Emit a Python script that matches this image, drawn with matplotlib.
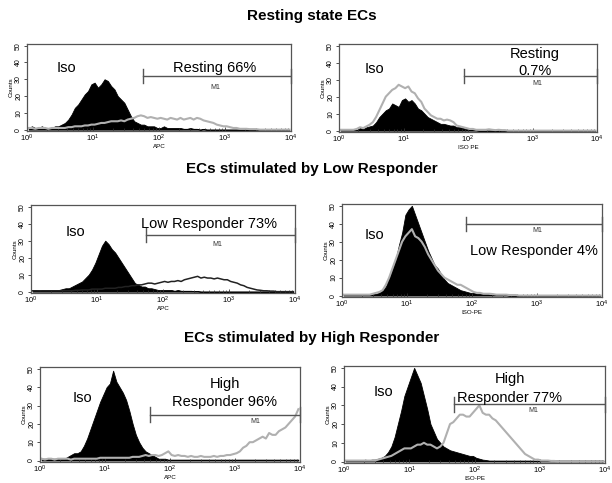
import numpy as np
import matplotlib
matplotlib.use("Agg")
import matplotlib.pyplot as plt
from matplotlib.ticker import LogLocator, FixedLocator

plt.rcParams['font.family'] = ['Liberation Sans', 'DejaVu Sans']

# bins: 20 per decade, 10^0 .. 10^4 (values read at bin centres)
edges = 10 ** np.linspace(0, 4, 81)
centers = np.sqrt(edges[:-1] * edges[1:])

# --- Resting state, APC ---
rest_apc_iso = [1, 2, 1, 1, 2, 1, 1, 1, 2, 2, 3, 4, 6, 9, 13, 15, 18, 21, 23, 27,
                28, 25, 27, 30, 29, 26, 24, 20, 18, 16, 12, 8, 5, 4, 3, 3, 2, 2, 2, 1,
                1, 2, 1, 1, 1, 1, 1, .5, .5, 1, .5, .5, 0, .5, 0, 0, 0, 0, 0, 0,
                0, 0, 0, 0, 0, 0, 0, 0, 0, 0, 0, 0, 0, 0, 0, 0, 0, 0, 0, 0]
rest_apc = [1, 1, .5, 1, 1, 1, .5, 1, 1, 1, 1, 1, 1.5, 1.5, 2, 2, 2, 2.5, 2.5, 3,
            3, 3.5, 4, 4, 4.5, 5, 5, 5, 5.5, 5, 6, 6.5, 7, 8, 8.5, 8, 7, 7.5, 7, 6.5,
            7, 6.5, 6, 7, 6.5, 6, 7, 6, 6.5, 7, 6, 7, 6.5, 5.5, 5, 4.5, 4, 3, 2.5, 2,
            2, 1.5, 1, 1, .5, .5, .5, .3, .3, .3, 0, 0, 0, 0, 0, 0, 0, 0, 0, 0]

# --- Resting state, ISO PE ---
rest_pe_iso = [.5, .5, .5, .5, .5, .5, 1.5, 1, 2, 2.5, 3, 5, 8, 10, 12, 13, 16, 15, 14, 18,
               19, 17, 18, 16, 13, 12, 10, 8, 7, 6, 5, 4, 4, 3.5, 3, 3, 2, 2, 1.5, 1,
               .5, .5, .3, 0, 0, 0, 0, 0, 0, 0, 0, 0, 0, 0, 0, 0, 0, 0, 0, 0,
               0, 0, 0, 0, 0, 0, 0, 0, 0, 0, 0, 0, 0, 0, 0, 0, 0, 0, 0, 0]
rest_pe = [.5, .5, .5, .5, .5, 1, 2, 1.5, 2.5, 3.5, 5, 8, 12, 16, 20, 22, 24, 25, 27, 26,
           25, 26, 23, 22, 19, 17, 13, 11, 9, 8, 7, 7, 6, 6.5, 6, 5, 3, 2.5, 2, 1.5,
           1, 1, .5, .5, .5, .5, .8, .5, .3, .5, .3, .3, 0, 0, 0, 0, 0, 0, 0, 0,
           0, 0, 0, 0, 0, 0, 0, 0, 0, 0, 0, 0, 0, 0, 0, 0, 0, 0, 0, 0]

# --- Low Responder, APC ---
low_apc_iso = [1, 1, .5, 1, 1, 1, 1, 1, 1, 1.5, 2, 2, 3, 4, 5, 6, 8, 10, 13, 17,
               22, 27, 30, 28, 25, 23, 20, 17, 14, 11, 8, 5, 4, 3, 3, 2, 2, 1.5, 1, 1,
               1, 1, 1, .5, 1, .5, .5, .5, .5, .3, .3, 0, 0, 0, 0, 0, 0, 0, 0, 0,
               0, 0, 0, 0, 0, 0, 0, 0, 0, 0, 0, 0, 0, 0, 0, 0, 0, 0, 0, 0]
low_apc = [.5, .5, .5, .5, .5, .5, .5, .5, .5, .5, .5, .5, .5, .8, .8, 1, 1, 1, 1.5, 1.5,
           1.5, 1.5, 2, 2, 2, 2, 2.5, 2.5, 3, 3, 3.5, 3.5, 4, 4, 4.5, 5, 5, 4.5, 5, 5.5,
           6, 5.5, 6, 6, 6.5, 6, 7, 7.5, 8, 8.5, 9, 8, 8.5, 8, 8, 7.5, 8, 7.5, 7, 7,
           6, 5.5, 5, 4, 3.5, 2.5, 2, 1.5, 1, .8, .5, .5, .3, .3, 0, 0, 0, 0, 0, 0]

# --- Low Responder, ISO PE ---
low_pe_iso = [.5, .5, .5, .5, .5, .5, .5, .5, .5, .8, 1, 1.5, 3, 5, 10, 15, 20, 28, 35, 45,
              48, 50, 45, 40, 35, 30, 25, 21, 17, 15, 12, 9, 7, 6, 5, 4, 3, 2.5, 2, 1.5,
              1.5, 1, 1, 1, 1, .5, .5, .5, .5, .3, .3, 0, 0, 0, 0, 0, 0, 0, 0, 0,
              0, 0, 0, 0, 0, 0, 0, 0, 0, 0, 0, 0, 0, 0, 0, 0, 0, 0, 0, 0]
low_pe = [.5, .5, .5, .5, .5, .5, .5, .5, .5, 1, 1.5, 2, 3, 6, 10, 15, 20, 25, 30, 33,
          35, 37, 33, 32, 30, 27, 23, 20, 17, 14, 12, 10, 9, 8, 7, 6, 6, 5, 4, 3,
          2, 1.5, 1.5, 1, 1, 1, .8, .5, .5, .5, .5, .3, .3, .3, 0, 0, 0, 0, 0, 0,
          0, 0, 0, 0, 0, 0, 0, 0, 0, 0, 0, 0, 0, 0, 0, 0, 0, 0, 0, 0]

# --- High Responder, APC ---
high_apc_iso = [1, 1, 1, 1, 1, 1, 1, 1, 2, 3, 4, 4, 5, 8, 12, 17, 22, 27, 32, 36,
                40, 42, 49, 43, 40, 37, 33, 27, 20, 14, 10, 7, 5, 4, 3, 2, 1, 1, 1, .5,
                .5, .5, .5, .5, .5, .5, .5, .5, .5, .5, .5, .5, .5, .5, .5, .5, .5, .5, .5, .5,
                .5, .5, .5, .5, .5, .5, .5, .5, .5, .5, .5, .5, .5, .5, .5, .5, .5, .5, .5, .5]
high_apc = [1, .5, 1, 1, .5, 1, 1, 1, 1, .5, 1, 1, 1, 1, 1, 1, 1, 1, 1.5, 1.5,
            1.5, 1.5, 1.5, 1.5, 1.5, 1.5, 1.5, 1.5, 2, 2, 2, 2.5, 3, 2.5, 3, 3, 2.5, 3, 4, 5,
            3, 2.5, 3, 2.5, 2.5, 2, 2.5, 2, 2, 2.5, 2, 2, 2, 2.5, 2, 2.5, 2.5, 3, 3, 3.5,
            4, 5, 7, 8, 10, 10, 11, 12, 13, 12, 15, 14, 14, 16, 17, 18, 20, 22, 24, 28]

# --- High Responder, ISO PE ---
high_pe_iso = [.5, .5, .5, .5, .5, .5, 1, .5, 1, 1, 1.5, 2, 3, 5, 8, 13, 20, 27, 35, 40,
               45, 50, 46, 42, 35, 28, 20, 16, 12, 10, 8, 7, 6, 5.5, 5, 4.5, 4, 3.5, 3, 3,
               2, 1.5, 1, .8, .5, .5, .5, .5, .5, .5, .5, .5, .5, .5, .5, .5, .5, .5, .5, .5,
               .5, .5, .5, .5, .5, .5, .5, .5, .5, .5, .5, .5, .5, .5, .5, .5, .5, .5, .5, .5]
high_pe = [.5, .5, .5, .5, .5, .5, .5, .5, .5, .5, 1, 1.5, 2, 2.5, 3, 4, 5, 6, 7, 7,
           7, 8, 9, 9, 10, 9, 9, 8, 7, 8, 10, 15, 20, 21, 23, 25, 25, 24, 24, 26,
           28, 30, 26, 25, 25, 23, 22, 20, 18, 16, 14, 12, 10, 8, 6, 4, 3, 2, 1, 1,
           .5, .5, .5, .3, .3, 0, 0, 0, 0, 0, 0, 0, 0, 0, 0, 0, 0, 0, 0, 0]

GRAY = '#b0b0b0'
W, H = 612, 483

fig = plt.figure(figsize=(6.12, 4.83), dpi=100)


def make_ax(x0, y0, x1, y1):
    ax = fig.add_axes([x0 / W, 1 - y1 / H, (x1 - x0) / W, (y1 - y0) / H])
    ax.set_xscale('log')
    ax.set_xlim(1, 1e4)
    ax.set_ylim(-0.8, 51)
    ax.yaxis.set_major_locator(FixedLocator([0, 10, 20, 30, 40, 50]))
    ax.xaxis.set_major_locator(LogLocator(base=10, numticks=6))
    ax.xaxis.set_minor_locator(LogLocator(base=10, subs=np.arange(2, 10), numticks=10))
    ax.tick_params(axis='x', which='major', direction='in', length=3, labelsize=5.5, pad=1.5,
                   color='#333333', width=0.6)
    ax.tick_params(axis='x', which='minor', direction='in', length=2, color='#333333', width=0.5)
    ax.tick_params(axis='y', which='major', direction='out', length=2.5, labelsize=5, pad=1,
                   color='#333333', width=0.6, labelrotation=90)
    for lbl in ax.get_yticklabels():
        lbl.set_va('center')
    for s in ax.spines.values():
        s.set_color('#555555')
        s.set_linewidth(0.9)
    ax.set_ylabel('Counts', fontsize=4.5, labelpad=1)
    return ax


def hist(ax, iso, sample, color=GRAY, lw=1.5):
    ax.fill_between(centers, iso, color='black', lw=0.6, edgecolor='black')
    ax.plot(centers, sample, color=color, lw=lw)


def gate(ax, x0, y, lx, ly):
    ax.plot([x0, 1e4], [y, y], color='#555555', lw=1.0)
    ax.plot([x0, x0], [y - 4, y + 4], color='#555555', lw=1.0)
    ax.plot([1e4, 1e4], [y - 4, y + 4], color='#555555', lw=1.0, clip_on=False)
    ax.text(lx, ly, 'M1', fontsize=5, ha='center', va='center', color='#333333')


# titles
fig.text(312 / W, 1 - 16 / H, 'Resting state ECs', fontsize=11, fontweight='bold',
         ha='center', va='center')
fig.text(312 / W, 1 - 169 / H, 'ECs stimulated by Low Responder', fontsize=11, fontweight='bold',
         ha='center', va='center')
fig.text(312 / W, 1 - 338 / H, 'ECs stimulated by High Responder', fontsize=11, fontweight='bold',
         ha='center', va='center')

# panel 1
ax = make_ax(27, 44, 291, 131)
hist(ax, rest_apc_iso, rest_apc)
gate(ax, 10 ** 1.75, 32, 10 ** 2.85, 25)
ax.text(10 ** 2.85, 37, 'Resting 66%', fontsize=10.5, ha='center', va='center')
ax.text(10 ** 0.6, 37, 'Iso', fontsize=10.5, ha='center', va='center')
ax.set_xlabel('APC', fontsize=4.5, labelpad=0)

# panel 2
ax = make_ax(339, 44, 597, 132)
hist(ax, rest_pe_iso, rest_pe)
gate(ax, 10 ** 1.94, 32, 10 ** 3.07, 28)
ax.text(10 ** 3.04, 45, 'Resting', fontsize=10.5, ha='center', va='center')
ax.text(10 ** 3.04, 35, '0.7%', fontsize=10.5, ha='center', va='center')
ax.text(10 ** 0.55, 36, 'Iso', fontsize=10.5, ha='center', va='center')
ax.set_xlabel('ISO PE', fontsize=4.5, labelpad=0)

# panel 3
ax = make_ax(31, 205, 295, 293)
hist(ax, low_apc_iso, low_apc, color='#222222', lw=1.1)
gate(ax, 10 ** 1.74, 33.5, 10 ** 2.83, 28)
ax.text(10 ** 2.69, 40, 'Low Responder 73%', fontsize=10.5, ha='center', va='center')
ax.text(10 ** 0.68, 35, 'Iso', fontsize=10.5, ha='center', va='center')
ax.set_xlabel('APC', fontsize=4.5, labelpad=0)

# panel 4
ax = make_ax(342, 204, 602, 297)
hist(ax, low_pe_iso, low_pe)
gate(ax, 10 ** 1.9, 40, 10 ** 3.0, 36)
ax.text(10 ** 2.96, 25, 'Low Responder 4%', fontsize=10.5, ha='center', va='center')
ax.text(10 ** 0.5, 34, 'Iso', fontsize=10.5, ha='center', va='center')
ax.set_xlabel('ISO-PE', fontsize=4.5, labelpad=0)

# panel 5
ax = make_ax(40, 367, 300, 462)
hist(ax, high_apc_iso, high_apc)
gate(ax, 10 ** 1.69, 25, 10 ** 3.32, 21.5)
ax.text(10 ** 2.84, 42, 'High', fontsize=10.5, ha='center', va='center')
ax.text(10 ** 2.84, 32, 'Responder 96%', fontsize=10.5, ha='center', va='center')
ax.text(10 ** 0.66, 34, 'Iso', fontsize=10.5, ha='center', va='center')
ax.set_xlabel('APC', fontsize=4.5, labelpad=0)

# panel 6
ax = make_ax(344, 366, 605, 463)
hist(ax, high_pe_iso, high_pe)
gate(ax, 10 ** 1.68, 30.5, 10 ** 2.9, 27)
ax.text(10 ** 2.54, 44, 'High', fontsize=10.5, ha='center', va='center')
ax.text(10 ** 2.54, 34, 'Responder 77%', fontsize=10.5, ha='center', va='center')
ax.text(10 ** 0.6, 37, 'Iso', fontsize=10.5, ha='center', va='center')
ax.set_xlabel('ISO-PE', fontsize=4.5, labelpad=0)

fig.savefig('out.png', dpi=100)
